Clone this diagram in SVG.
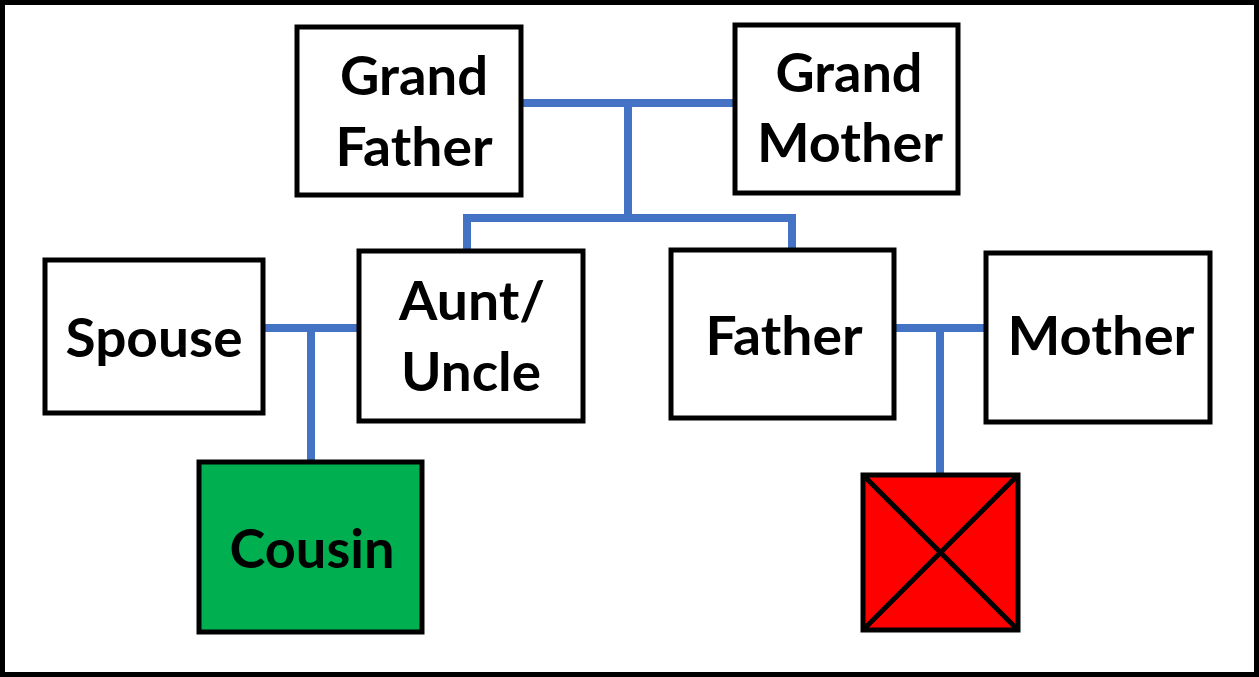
<svg xmlns="http://www.w3.org/2000/svg" width="1259" height="677" viewBox="0 0 1259 677">
<style>
.box{fill:#fff;stroke:#000;stroke-width:5}
.lbl{font-family:Lato,"Open Sans","Liberation Sans",sans-serif;font-weight:bold;font-size:53px;fill:#000}
.con{stroke:#4472C4;stroke-width:8;fill:none}
</style>
<rect x="2.5" y="2.5" width="1254" height="672" fill="#fff" stroke="#000" stroke-width="5"/>
<g id="connectors">
<path class="con" d="M521 103H735M628 103V218M463 218H796M467 218V252M792 218V250"/>
<path class="con" d="M263 328H359M311 328V462"/>
<path class="con" d="M894 328H986M940 328V475"/>
</g>
<g id="grandfather">
<rect class="box" x="297" y="27" width="224" height="168"/>
<text class="lbl" x="414" y="95" text-anchor="middle" textLength="148" lengthAdjust="spacingAndGlyphs">Grand</text>
<text class="lbl" x="414" y="166" text-anchor="middle" textLength="157" lengthAdjust="spacingAndGlyphs">Father</text>
</g>
<g id="grandmother">
<rect class="box" x="735" y="25" width="223" height="168"/>
<text class="lbl" x="849" y="92" text-anchor="middle" textLength="147" lengthAdjust="spacingAndGlyphs">Grand</text>
<text class="lbl" x="850" y="162" text-anchor="middle" textLength="186" lengthAdjust="spacingAndGlyphs">Mother</text>
</g>
<g id="spouse">
<rect class="box" x="45" y="260" width="218" height="153"/>
<text class="lbl" x="154" y="357" text-anchor="middle" textLength="177" lengthAdjust="spacingAndGlyphs">Spouse</text>
</g>
<g id="auntuncle">
<rect class="box" x="359" y="251" width="224" height="170"/>
<text class="lbl" x="472" y="320" text-anchor="middle" textLength="146" lengthAdjust="spacingAndGlyphs">Aunt/</text>
<text class="lbl" x="471" y="391" text-anchor="middle" textLength="140" lengthAdjust="spacingAndGlyphs">Uncle</text>
</g>
<g id="father">
<rect class="box" x="671" y="250" width="223" height="168"/>
<text class="lbl" x="784" y="355" text-anchor="middle" textLength="157" lengthAdjust="spacingAndGlyphs">Father</text>
</g>
<g id="mother">
<rect class="box" x="986" y="253" width="224" height="169"/>
<text class="lbl" x="1101" y="355" text-anchor="middle" textLength="187" lengthAdjust="spacingAndGlyphs">Mother</text>
</g>
<g id="cousin">
<rect class="box" x="199" y="462" width="223" height="170" style="fill:#00B050"/>
<text class="lbl" x="312" y="568" text-anchor="middle" textLength="165" lengthAdjust="spacingAndGlyphs">Cousin</text>
</g>
<g id="deceased">
<rect class="box" x="863" y="475" width="155" height="155" style="fill:#FF0000"/>
<path d="M863 475L1018 630M1018 475L863 630" stroke="#000" stroke-width="5"/>
</g>
</svg>
